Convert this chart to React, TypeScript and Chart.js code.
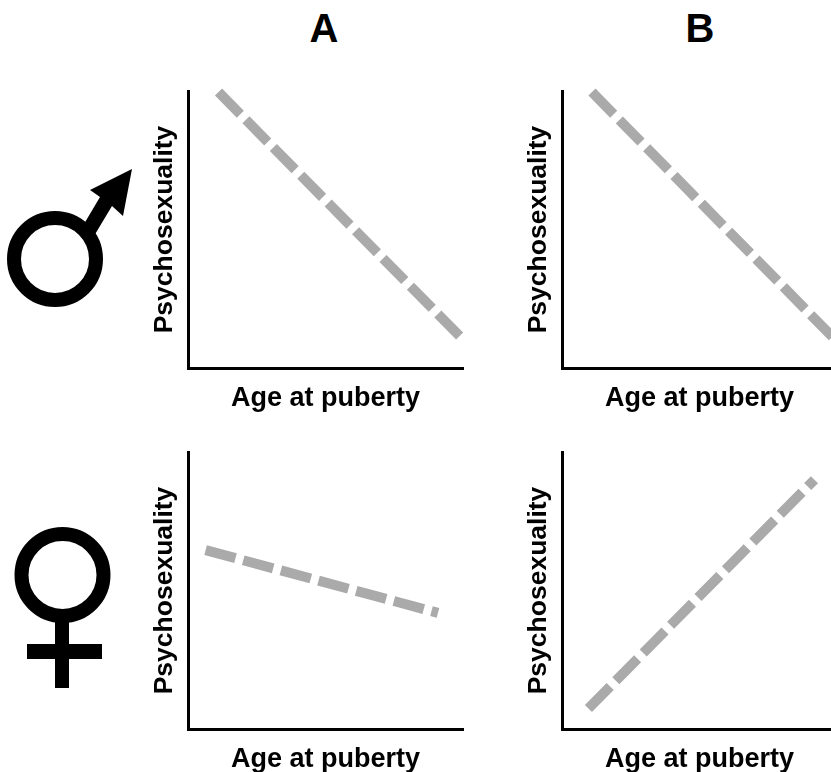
import React, { useEffect, useRef } from "react";
import { Chart, registerables } from "chart.js";

Chart.register(...registerables);

const columnTitles = ["A", "B"];
const xAxisLabel = "Age at puberty";
const yAxisLabel = "Psychosexuality";

const ageAtPuberty = {
  maleA: [11.1, 99.3],
  maleB: [10.9, 99.6],
  femaleA: [6.4, 90.9],
  femaleB: [9.6, 91.8],
};
const psychosexuality = {
  maleA: [99.6, 11.0],
  maleB: [99.6, 10.0],
  femaleA: [64.6, 41.9],
  femaleB: [7.4, 90.0],
};

const FONT = '"Liberation Sans", Arial, sans-serif';
const PANEL_W = 330;
const PANEL_H = 334;
const AXIS_LEFT = 48;
const AXIS_TOP = 10;
const AREA_W = 275;
const AREA_H = 277;

type Key = keyof typeof ageAtPuberty;

function Panel({ id, left, top }: { id: Key; left: number; top: number }) {
  const ref = useRef<HTMLCanvasElement>(null);
  useEffect(() => {
    const chart = new Chart(ref.current!, {
      type: "line",
      data: {
        datasets: [
          {
            data: ageAtPuberty[id].map((x, i) => ({ x, y: psychosexuality[id][i] })),
            borderColor: "#aaaaaa",
            borderWidth: 10,
            borderDash: [31, 8],
            borderCapStyle: "butt",
            pointRadius: 0,
            tension: 0,
            clip: false,
          } as any,
        ],
      },
      options: {
        responsive: false,
        animation: false,
        layout: {
          padding: {
            left: 0,
            top: AXIS_TOP,
            right: PANEL_W - AXIS_LEFT - AREA_W,
            bottom: 0,
          },
        },
        plugins: { legend: { display: false }, tooltip: { enabled: false } },
        scales: {
          x: {
            type: "linear",
            min: 0,
            max: 100,
            grid: { display: false, drawTicks: false },
            border: { display: true, color: "#000", width: 3 },
            ticks: { display: false },
            title: {
              display: true,
              text: xAxisLabel,
              color: "#000",
              font: { family: FONT, size: 27, weight: "bold" },
              padding: { top: 0, bottom: 0 },
            },
            afterFit: (s: any) => {
              s.height = PANEL_H - AXIS_TOP - AREA_H;
            },
          },
          y: {
            type: "linear",
            min: 0,
            max: 100,
            grid: { display: false, drawTicks: false },
            border: { display: true, color: "#000", width: 3 },
            ticks: { display: false },
            title: {
              display: true,
              text: yAxisLabel,
              color: "#000",
              font: { family: FONT, size: 26.5, weight: "bold" },
              padding: { top: 9, bottom: 0 },
            },
            afterFit: (s: any) => {
              s.width = AXIS_LEFT;
            },
          },
        },
      },
    } as any);
    return () => chart.destroy();
  }, [id]);
  return (
    <canvas
      ref={ref}
      width={PANEL_W}
      height={PANEL_H}
      style={{ position: "absolute", left, top, width: PANEL_W, height: PANEL_H }}
    />
  );
}

const titleStyle = (cx: number): React.CSSProperties => ({
  position: "absolute",
  left: cx - 40,
  top: 5,
  width: 80,
  textAlign: "center",
  font: `bold 40px ${FONT}`,
  lineHeight: "46px",
  color: "#000",
});

export default function App() {
  return (
    <div
      style={{
        position: "fixed",
        left: 0,
        top: 0,
        width: 831,
        height: 772,
        overflow: "hidden",
        background: "#fff",
      }}
    >
      <div style={titleStyle(324)}>{columnTitles[0]}</div>
      <div style={titleStyle(700)}>{columnTitles[1]}</div>
      <Panel id="maleA" left={140} top={81} />
      <Panel id="maleB" left={514} top={81} />
      <Panel id="femaleA" left={140} top={442} />
      <Panel id="femaleB" left={514} top={442} />
      <svg width={831} height={772} style={{ position: "absolute", left: 0, top: 0, pointerEvents: "none" }}>
        <circle cx={55} cy={259} r={41} fill="none" stroke="#000" strokeWidth={14} />
        <polygon points="84,224 100,197 90,190 132,169 123,216 112,206 94,236" fill="#000" />
        <circle cx={62.5} cy={575} r={41} fill="none" stroke="#000" strokeWidth={14} />
        <rect x={55} y={620} width={14} height={68} fill="#000" />
        <rect x={27} y={644} width={75} height={15} fill="#000" />
      </svg>
    </div>
  );
}
